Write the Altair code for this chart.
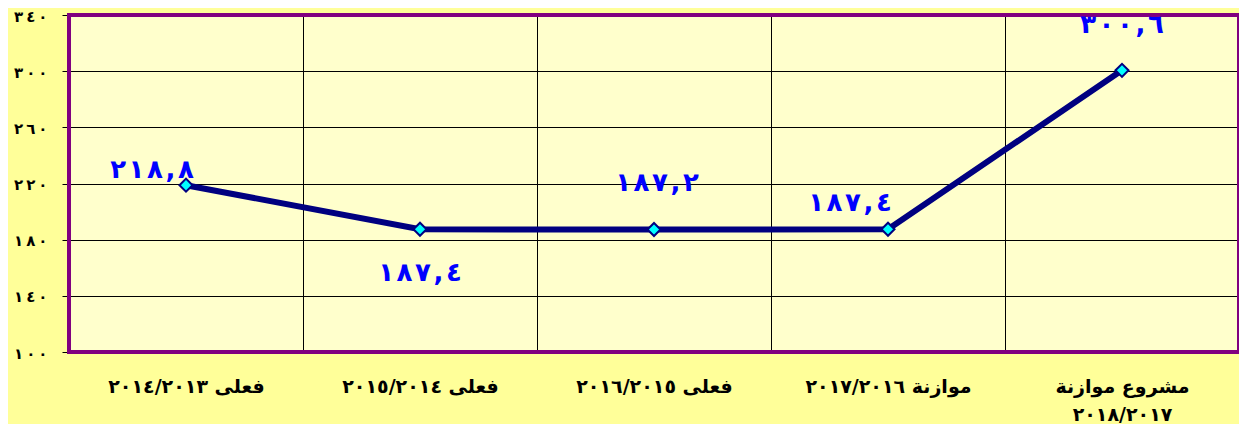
import altair as alt
import pandas as pd

# ---- data ----
categories = [
    "فعلى  ٢٠١٤/٢٠١٣",
    "فعلى  ٢٠١٥/٢٠١٤",
    "فعلى  ٢٠١٦/٢٠١٥",
    "موازنة  ٢٠١٧/٢٠١٦",
    "مشروع موازنة\n٢٠١٨/٢٠١٧",
]
values = [218.8, 187.4, 187.2, 187.4, 300.6]
value_labels = ["٢١٨,٨", "١٨٧,٤", "١٨٧,٢", "١٨٧,٤", "٣٠٠,٦"]
y_ticks = [100, 140, 180, 220, 260, 300, 340]
y_tick_labels = ["١٠٠", "١٤٠", "١٨٠", "٢٢٠", "٢٦٠", "٣٠٠", "٣٤٠"]


def spaced(s, sep=""):
    # left-to-right override so the Arabic-Indic digits keep their order
    return "\u202d" + sep.join(s) + "\u202c"


df = pd.DataFrame({
    "cat": categories,
    "val": values,
    "lab": [spaced(s, "\u200a") for s in value_labels],
    "idx": list(range(len(categories))),
})

W, H = 1170, 337
FONT = "DejaVu Sans"

ylab_arr = "[" + ",".join("'" + spaced(s, "\u2009") + "'" for s in y_tick_labels) + "]"
yval_arr = "[" + ",".join(str(v) for v in y_ticks) + "]"

x_enc = alt.X(
    "cat:N",
    sort=categories,
    scale=alt.Scale(type="band", paddingInner=0, paddingOuter=0),
    axis=alt.Axis(
        title=None,
        labelAngle=0,
        ticks=False,
        domain=False,
        grid=True,
        tickBand="extent",
        gridColor="#000000",
        gridWidth=1,
        labelFont=FONT,
        labelFontSize=19,
        labelFontWeight="bold",
        labelColor="#000000",
        labelPadding=25,
        labelLineHeight=28,
        labelOverlap=False,
        labelExpr="split(datum.label, '\\n')",
    ),
)
y_enc = alt.Y(
    "val:Q",
    scale=alt.Scale(domain=[100, 340], nice=False, zero=False),
    axis=alt.Axis(
        title=None,
        values=y_ticks,
        domain=False,
        ticks=True,
        tickSize=7,
        tickColor="#000000",
        grid=True,
        gridColor="#000000",
        gridWidth=1,
        labelFont=FONT,
        labelFontSize=15,
        labelFontWeight="bold",
        labelColor="#000000",
        labelPadding=15,
        labelOffset=1,
        labelExpr=ylab_arr + "[indexof(" + yval_arr + ", datum.value)]",
    ),
)

base = alt.Chart(df).encode(x=x_enc, y=y_enc)

line = base.mark_line(color="#000080", strokeWidth=6)
pts = base.mark_point(
    shape="diamond", filled=True, fill="#00FFFF", stroke="#000080",
    strokeWidth=2, size=170, opacity=1,
)

offsets = [(-34, -15), (0, 44), (3, -47), (-38, -26), (0, -45)]
texts = []
for i, (dx, dy) in enumerate(offsets):
    texts.append(
        base.transform_filter(alt.datum.idx == i)
        .mark_text(
            font=FONT, fontSize=26, fontWeight="bold", color="#0000FF",
            dx=dx, dy=dy, align="center", baseline="middle",
        )
        .encode(text="lab:N")
    )

border = alt.Chart(alt.Data(values=[{"a": 1}])).mark_rect(
    fill="#FFFFCC", fillOpacity=0, stroke="#800080", strokeWidth=4,
).encode(x=alt.value(0), x2=alt.value(W), y=alt.value(0), y2=alt.value(H))

chart = (
    alt.layer(line, pts, border, *texts)
    .properties(
        width=W, height=H,
        background="#FFFF99",
        padding={"left": 61, "top": 7, "right": 0, "bottom": 72},
        autosize=alt.AutoSizeParams(type="none"),
    )
    .configure_view(fill="#FFFFCC", stroke="transparent")
)

chart.save("out.html", embed_options={"renderer": "svg", "actions": False})
